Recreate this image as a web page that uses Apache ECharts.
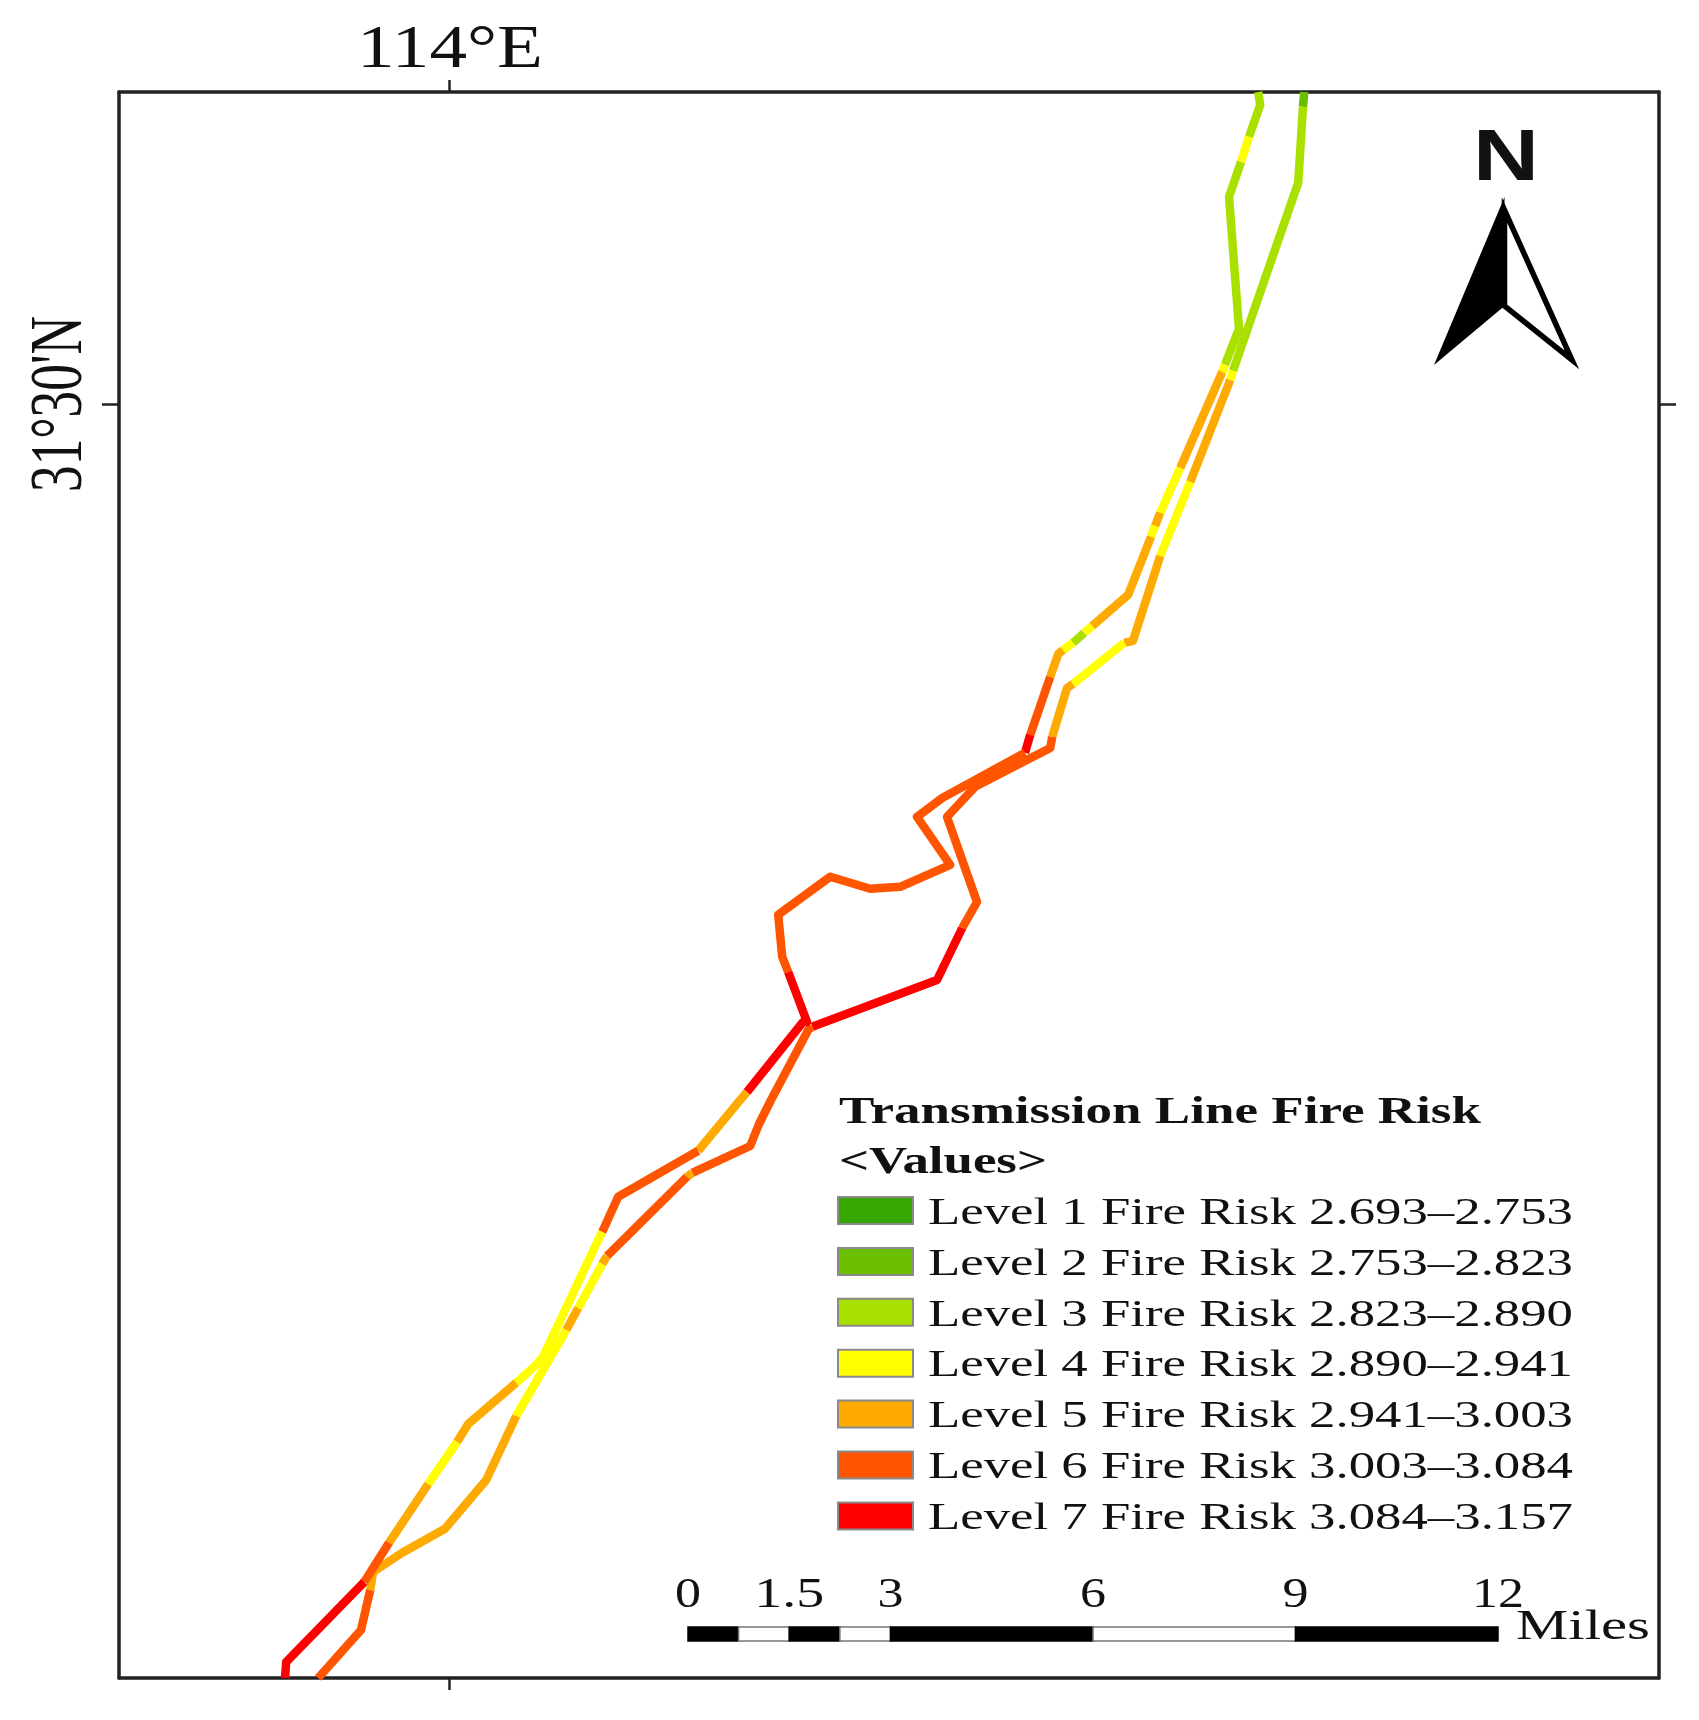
<!DOCTYPE html>
<html>
<head>
<meta charset="utf-8">
<title>Transmission Line Fire Risk</title>
<script src="https://cdn.jsdelivr.net/npm/echarts@6/dist/echarts.min.js"></script>
<style>
  html, body { margin: 0; padding: 0; background: #fff; }
  #chart { width: 1699px; height: 1720px; }
</style>
</head>
<body>
<div id="chart"></div>
<script>
// east circuit: level is the risk class of the stretch ending at that point
const eastLon = [114.2138, 114.2135, 114.2123, 114.196, 114.1953, 114.1853, 114.1778, 114.171, 114.1688, 114.156, 114.1545, 114.1508, 114.1503, 114.1315, 114.1245, 114.132, 114.1283, 114.122, 114.0908, 114.0898, 114.0805, 114.0775, 114.0753, 114.0608, 114.0595, 114.0395, 114.0383, 114.0323, 114.0293, 114.0168, 114.0093, 113.999, 113.9883, 113.981, 113.9803, 113.978, 113.9673];
const eastLat = [31.578, 31.5743, 31.5553, 31.5083, 31.506, 31.4805, 31.462, 31.4408, 31.4403, 31.43, 31.429, 31.4168, 31.414, 31.4043, 31.3968, 31.3755, 31.369, 31.356, 31.3443, 31.3435, 31.326, 31.32, 31.3145, 31.3078, 31.3068, 31.287, 31.285, 31.274, 31.2685, 31.247, 31.231, 31.2188, 31.2128, 31.208, 31.2035, 31.1935, 31.1815];
const eastLevel = [2, 2, 3, 3, 4, 5, 4, 5, 5, 4, 5, 5, 6, 6, 6, 6, 6, 7, 7, 6, 6, 6, 6, 6, 5, 6, 5, 4, 5, 4, 5, 5, 5, 5, 5, 6, 6];

// west circuit
const westLon = [114.2023, 114.2028, 114.2, 114.198, 114.195, 114.1975, 114.194, 114.1933, 114.1828, 114.1778, 114.1765, 114.1755, 114.1698, 114.1608, 114.1588, 114.156, 114.1535, 114.1523, 114.1503, 114.1453, 114.144, 114.1233, 114.117, 114.1253, 114.1128, 114.1053, 114.0953, 114.0823, 114.0833, 114.0848, 114.0895, 114.0885, 114.0745, 114.0728, 114.0623, 114.0423, 114.0383, 114.0373, 114.0235, 114.0218, 114.0168, 114.0048, 114.002, 113.9948, 113.985, 113.9788, 113.9593, 113.959];
const westLat = [31.578, 31.5748, 31.5668, 31.5605, 31.5518, 31.5188, 31.5098, 31.508, 31.484, 31.4728, 31.4695, 31.4668, 31.4523, 31.4445, 31.4428, 31.4403, 31.4385, 31.4375, 31.4318, 31.4173, 31.4128, 31.4015, 31.3968, 31.3848, 31.3793, 31.3788, 31.3818, 31.3723, 31.3618, 31.358, 31.3455, 31.3455, 31.328, 31.326, 31.3133, 31.3018, 31.293, 31.291, 31.2618, 31.2598, 31.2553, 31.245, 31.2405, 31.23, 31.2153, 31.2055, 31.1855, 31.1815];
const westLevel = [3, 3, 3, 4, 3, 3, 3, 4, 5, 4, 5, 4, 5, 5, 4, 3, 4, 5, 5, 6, 7, 6, 6, 6, 6, 6, 6, 6, 6, 6, 7, 7, 7, 5, 5, 6, 6, 4, 4, 4, 4, 5, 5, 4, 5, 6, 7, 7];

const levelNames = [
  "Level 1 Fire Risk 2.693–2.753",
  "Level 2 Fire Risk 2.753–2.823",
  "Level 3 Fire Risk 2.823–2.890",
  "Level 4 Fire Risk 2.890–2.941",
  "Level 5 Fire Risk 2.941–3.003",
  "Level 6 Fire Risk 3.003–3.084",
  "Level 7 Fire Risk 3.084–3.157",
];
const levelColors = ["#38a800", "#6bbf00", "#aae000", "#ffff00", "#ffaa00", "#ff5500", "#ff0000"];

const scaleMiles = [0, 1.5, 3, 6, 9, 12];
const scaleStops = [0, 0.75, 1.5, 2.25, 3, 6, 9, 12];

const lonTick = 114;
const latTick = 31.5;

const serif = '"Liberation Serif", serif';
const measure = document.createElement("canvas").getContext("2d");

// the source figure is stretched, so text is squeezed to the width it has there
function fit(text, font, width) {
  measure.font = font;
  return width / measure.measureText(text).width;
}

function label(text, font, x, y, width, extra) {
  return Object.assign({
    type: "text",
    x: x,
    y: y,
    scaleX: fit(text, font, width),
    silent: true,
    style: { text: text, font: font, fill: "#111", textAlign: "left", textVerticalAlign: "middle" },
  }, extra);
}

function centred(text, font, x, y, width) {
  const item = label(text, font, x, y, width);
  item.style.textAlign = "center";
  return item;
}

// one line series for each run of segments with the same level
function circuitSeries(lon, lat, level) {
  const out = [];
  let run = [[lon[0], lat[0]]];
  for (let i = 1; i < lon.length; i++) {
    run.push([lon[i], lat[i]]);
    if (i === lon.length - 1 || level[i + 1] !== level[i]) {
      out.push({
        name: levelNames[level[i] - 1],
        type: "line",
        data: run,
        showSymbol: false,
        silent: true,
        lineStyle: { color: levelColors[level[i] - 1], width: 8.5, cap: "butt", join: "round" },
        itemStyle: { color: levelColors[level[i] - 1] },
      });
      run = [[lon[i], lat[i]]];
    }
  }
  return out;
}

function legendItems() {
  const items = [
    label("Transmission Line Fire Risk", 'bold 38px ' + serif, 839, 1113, 642),
    label("<Values>", 'bold 38px ' + serif, 839, 1163, 208),
  ];
  levelNames.forEach(function (name, i) {
    const y = 1197 + i * 50.9;
    items.push({
      type: "rect",
      silent: true,
      shape: { x: 838, y: y, width: 75, height: 27 },
      style: { fill: levelColors[i], stroke: "#8a8a8a", lineWidth: 2 },
    });
    items.push(label(name, "37px " + serif, 928, y + 17, 645));
  });
  return items;
}

function scaleBarItems() {
  const x0 = 688, perMile = 67.5;
  const items = [];
  for (let i = 0; i < scaleStops.length - 1; i++) {
    items.push({
      type: "rect",
      silent: true,
      shape: {
        x: x0 + scaleStops[i] * perMile,
        y: 1627,
        width: (scaleStops[i + 1] - scaleStops[i]) * perMile,
        height: 14,
      },
      style: { fill: i % 2 ? "#fff" : "#000", stroke: i % 2 ? "#777" : "#000", lineWidth: 1.5 },
    });
  }
  scaleMiles.forEach(function (m) {
    const text = String(m);
    items.push(centred(text, "42px " + serif, x0 + m * perMile, 1596, text.length === 3 ? 70 : text.length * 26));
  });
  items.push(label("Miles", "42px " + serif, 1516, 1628, 134));
  return items;
}

function northArrowItems() {
  return [
    {
      type: "polygon",
      silent: true,
      shape: { points: [[1504.5, 197], [1504.5, 306], [1434, 365]] },
      style: { fill: "#000" },
    },
    {
      type: "polygon",
      silent: true,
      shape: { points: [[1504.5, 210], [1504.5, 306], [1572, 360]] },
      style: { fill: "#fff", stroke: "#000", lineWidth: 5.5, lineJoin: "miter" },
    },
    centred("N", 'bold 72px "Liberation Sans", sans-serif', 1506, 160, 66),
  ];
}

const chart = echarts.init(document.getElementById("chart"), null, { renderer: "canvas" });

function frameAxis(position, values, length) {
  return {
    type: "value",
    position: position,
    scale: true,
    axisLine: { show: true, onZero: false, lineStyle: { color: "#222", width: 3.5 } },
    axisTick: { show: true, customValues: values, length: length, lineStyle: { color: "#222", width: 2.5 } },
    axisLabel: { show: false },
    splitLine: { show: false },
  };
}

chart.setOption({
  animation: false,
  backgroundColor: "#fff",
  grid: { left: 119, top: 92, width: 1540, height: 1586 },
  xAxis: [
    Object.assign(frameAxis("bottom", [lonTick], 12), { min: 113.9175, max: 114.3025 }),
    Object.assign(frameAxis("top", [lonTick], 12), { min: 113.9175, max: 114.3025 }),
  ],
  yAxis: [
    Object.assign(frameAxis("left", [latTick], 17), { min: 31.1815, max: 31.578 }),
    Object.assign(frameAxis("right", [latTick], 17), { min: 31.1815, max: 31.578 }),
  ],
  series: circuitSeries(eastLon, eastLat, eastLevel).concat(circuitSeries(westLon, westLat, westLevel)),
  graphic: {
    elements: [
      centred("114°E", "61px " + serif, 450, 51, 186),
      label("31°30'N", "74px " + serif, 62, 492, 176, { rotation: Math.PI / 2 }),
    ].concat(legendItems(), scaleBarItems(), northArrowItems()),
  },
});
</script>
</body>
</html>
